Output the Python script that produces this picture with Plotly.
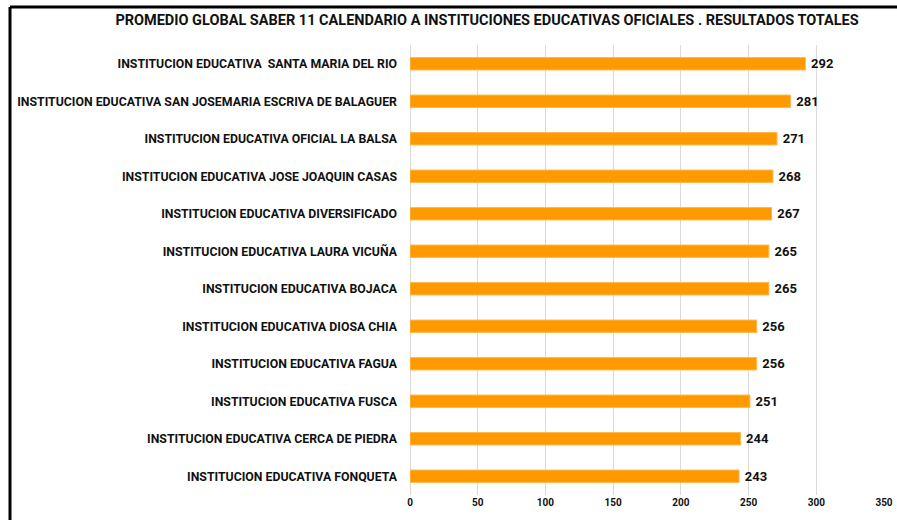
import plotly.graph_objects as go

categories = [
    "INSTITUCION EDUCATIVA  SANTA MARIA DEL RIO",
    "INSTITUCION EDUCATIVA SAN JOSEMARIA ESCRIVA DE BALAGUER",
    "INSTITUCION EDUCATIVA OFICIAL LA BALSA",
    "INSTITUCION EDUCATIVA JOSE JOAQUIN CASAS",
    "INSTITUCION EDUCATIVA DIVERSIFICADO",
    "INSTITUCION EDUCATIVA LAURA VICUÑA",
    "INSTITUCION EDUCATIVA BOJACA",
    "INSTITUCION EDUCATIVA DIOSA CHIA",
    "INSTITUCION EDUCATIVA FAGUA",
    "INSTITUCION EDUCATIVA FUSCA",
    "INSTITUCION EDUCATIVA CERCA DE PIEDRA",
    "INSTITUCION EDUCATIVA FONQUETA",
]
values = [292, 281, 271, 268, 267, 265, 265, 256, 256, 251, 244, 243]
x_ticks = [0, 50, 100, 150, 200, 250, 300, 350]

title = "PROMEDIO GLOBAL SABER 11 CALENDARIO A INSTITUCIONES EDUCATIVAS OFICIALES . RESULTADOS TOTALES"
FONT = "Roboto, Arial, sans-serif"

fig = go.Figure(go.Bar(
    x=values,
    y=categories,
    orientation="h",
    width=0.33,
    marker=dict(color="#FF9900", line=dict(color="#FFB84D", width=1)),
    text=["\u2009<b>%d</b>" % v for v in values],
    textposition="outside",
    constraintext="none",
    textfont=dict(family=FONT, size=13, color="#111111"),
    cliponaxis=False,
))

fig.update_layout(
    width=897, height=520,
    margin=dict(l=410, r=13, t=45, b=25, autoexpand=False),
    paper_bgcolor="white", plot_bgcolor="white",
    showlegend=False,
    font=dict(family=FONT, color="#111111"),
    title=dict(text="<b>" + title + "</b>", x=487 / 897, xref="container", xanchor="center",
               y=1 - 20 / 520, yref="container", yanchor="middle",
               font=dict(family=FONT, size=14.5, color="#111111")),
    xaxis=dict(range=[0, 350], tickvals=x_ticks, ticktext=["<b>%d</b>" % t for t in x_ticks],
               showgrid=True, gridcolor="#D9D9D9", gridwidth=1, automargin=False,
               zeroline=True, zerolinecolor="#D9D9D9", zerolinewidth=1,
               showline=False, ticks="", tickfont=dict(family=FONT, size=10, color="#111111")),
    yaxis=dict(autorange="reversed", showgrid=False, ticks="", showline=False, automargin=False,
               tickvals=categories, ticktext=["<b>" + c + "</b>" for c in categories],
               ticklabelstandoff=12,
               tickfont=dict(family=FONT, size=12.3, color="#111111")),
    bargap=0.67,
)

# frame border (top and left edges visible)
x_left = (10 - 410) / 474
y_top = (495 - 7) / 450
fig.add_shape(type="line", xref="paper", yref="paper", x0=x_left, x1=1.1, y0=y_top, y1=y_top,
              line=dict(color="black", width=3))
fig.add_shape(type="line", xref="paper", yref="paper", x0=x_left, x1=x_left, y0=y_top, y1=-0.2,
              line=dict(color="black", width=3))

fig.write_html("out.html", config={"displayModeBar": False},
               post_script="document.body.style.margin='0';")
